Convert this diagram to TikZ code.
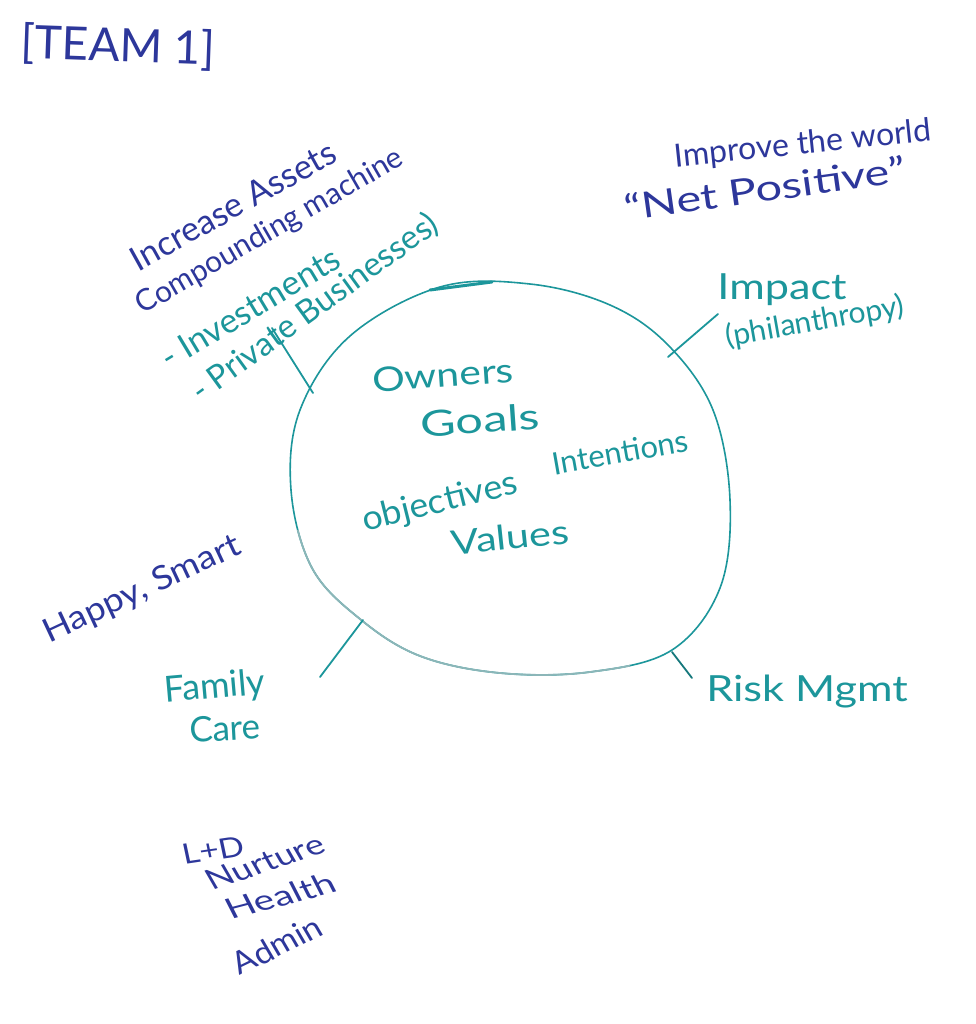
\documentclass[tikz,border=0pt]{standalone}
\usepackage{fontspec}
\setmainfont{Lato}
\definecolor{ink}{RGB}{45,55,155}
\definecolor{teal2}{RGB}{28,150,155}
\definecolor{tealpale}{RGB}{140,182,184}
\begin{document}
\begin{tikzpicture}[x=1pt,y=-1pt,
  blue/.style={text=ink,inner sep=0pt,font=\fontsize{30}{32}\selectfont},
  tl/.style={text=teal2,inner sep=0pt,font=\fontsize{34}{36}\selectfont},
  conn/.style={draw=teal2,line width=1.8pt,line cap=round},
  blob/.style={draw=teal2,line width=1.6pt}]
\useasboundingbox[fill=white] (0,0) rectangle (975,1024);
% title
\node[blue,font=\fontsize{46}{48}\selectfont,rotate=-2] (team) at (118,47) {[TEAM 1]};
% circle (blob)
\def\blobpath{plot[smooth cycle,tension=0.6] coordinates {(440,287) (530,284) (610,305) (668,345) (713,410) (730,500) (720,588) (672,650) (590,672) (500,673) (420,656) (360,619) (312,568) (291,490) (300,410) (350,336)}}
\draw[blob] \blobpath;
\begin{scope}
\clip (270,530) rectangle (630,700);
\draw[blob,draw=tealpale,line width=1.8pt] \blobpath;
\end{scope}
\draw[teal2,line width=3pt,line cap=round] (430,290) -- (492,282);
% center texts
\node[tl,rotate=4,xscale=1.2] (owners) at (443,375) {Owners};
\node[tl,rotate=4,xscale=1.35,font=\fontsize{36}{38}\selectfont] (goals) at (480,420) {Goals};
\node[tl,rotate=10,font=\fontsize{31}{33}\selectfont] (intent) at (620,452) {Intentions};
\node[tl,rotate=14,xscale=1.05] (obj) at (440,503) {objectives};
\node[tl,rotate=6,xscale=1.22] (values) at (510,537) {Values};
% top left
\node[blue,rotate=29,font=\fontsize{34}{36}\selectfont] (incr) at (233,206) {Increase Assets};
\node[blue,rotate=30] (comp) at (270,232) {Compounding machine};
\node[tl,rotate=31] (inv) at (250,308) {- Investments};
\node[tl,rotate=36,font=\fontsize{33}{35}\selectfont] (priv) at (315,308) {- Private Businesses)};
\coordinate (c1a) at (313,393);
\coordinate (c1b) at (272,328);
\draw[conn] (c1a) -- (c1b);
% top right
\node[blue,rotate=6,font=\fontsize{32}{34}\selectfont] (improve) at (803,145) {Improve the world};
\node[blue,rotate=8,xscale=1.3,font=\fontsize{36}{38}\selectfont] (net) at (765,188) {``Net Positive''};
\node[tl,xscale=1.2,font=\fontsize{36}{38}\selectfont] (impact) at (782,290) {Impact};
\node[tl,rotate=10,font=\fontsize{30}{32}\selectfont] (phil) at (815,322) {(philanthropy)};
\coordinate (c2a) at (668,357);
\coordinate (c2b) at (718,314);
\draw[conn] (c2a) -- (c2b);
% left
\node[blue,rotate=25,xscale=1.1,font=\fontsize{33}{35}\selectfont] (happy) at (142,590) {Happy, Smart};
\node[tl,rotate=5,font=\fontsize{36}{38}\selectfont] (family) at (215,688) {Family};
\node[tl,rotate=3,font=\fontsize{35}{37}\selectfont] (care) at (225,728) {Care};
\coordinate (c3a) at (363,620);
\coordinate (c3b) at (320,677);
\draw[conn] (c3a) -- (c3b);
% bottom right
\node[tl,xscale=1.2,font=\fontsize{36}{38}\selectfont] (risk) at (807,692) {Risk Mgmt};
\coordinate (c4a) at (672,652);
\coordinate (c4b) at (692,678);
\draw[conn,draw=teal2!80!black] (c4a) -- (c4b);
% bottom left
\node[blue,font=\fontsize{28}{30}\selectfont,xscale=1.2,rotate=10] (ld) at (213,850) {L+D};
\node[blue,font=\fontsize{28}{30}\selectfont,xscale=1.3,rotate=24] (nurt) at (265,862) {Nurture};
\node[blue,font=\fontsize{28}{30}\selectfont,xscale=1.4,rotate=20] (health) at (280,896) {Health};
\node[blue,font=\fontsize{31}{33}\selectfont,xscale=1.1,rotate=28] (admin) at (277,945) {Admin};
\end{tikzpicture}
\end{document}
